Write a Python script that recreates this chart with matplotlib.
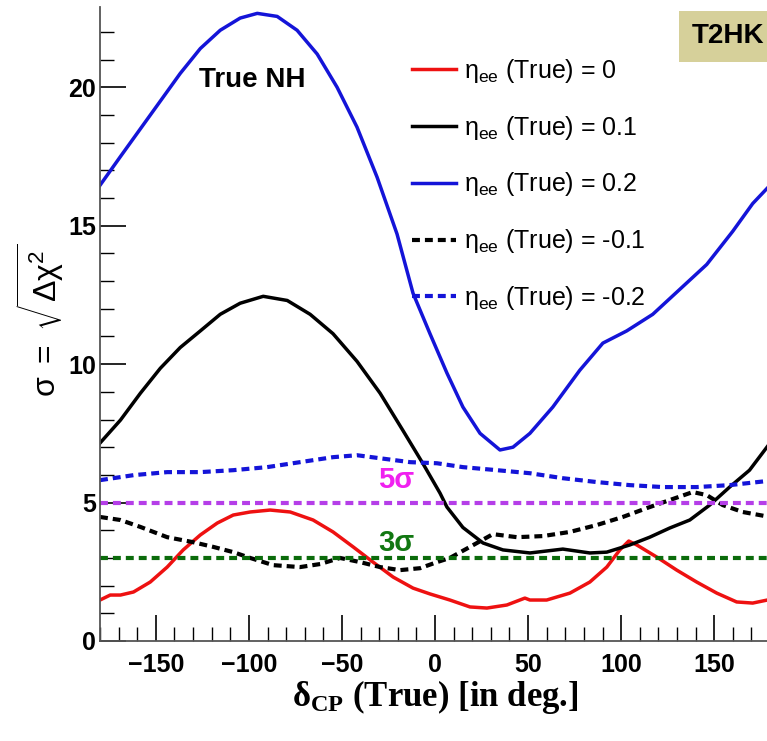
import numpy as np
import matplotlib
matplotlib.use('Agg')
import matplotlib.pyplot as plt
from matplotlib.ticker import MultipleLocator

plt.rcParams['font.family'] = ['Liberation Sans', 'DejaVu Sans']
plt.rcParams['mathtext.fontset'] = 'custom'
plt.rcParams['mathtext.rm'] = 'Liberation Sans'
plt.rcParams['mathtext.it'] = 'Liberation Sans'
plt.rcParams['mathtext.bf'] = 'Liberation Serif:bold'
plt.rcParams['mathtext.default'] = 'regular'

# eta_ee (True) = 0
x_red = [-180, -174.5, -169, -162, -153, -143.9, -135.3, -126.1, -117, -108.4, -99.3, -88.6, -77.8, -65.5,
         -54.8, -44, -33.3, -22.5, -11.8, -2.7, 8, 18.8, 27.9, 38.6, 48.3, 51, 60, 72.5, 83.2, 92.3, 99.3,
         104.1, 108.4, 119.2, 129.9, 140.6, 151.4, 162.1, 170.7, 180]
y_red = [1.48, 1.66, 1.66, 1.77, 2.13, 2.67, 3.29, 3.83, 4.26, 4.55, 4.66, 4.73, 4.66, 4.37,
         3.94, 3.4, 2.85, 2.31, 1.91, 1.7, 1.48, 1.23, 1.19, 1.3, 1.55, 1.48, 1.48, 1.73, 2.13, 2.67, 3.29,
         3.61, 3.47, 3.03, 2.56, 2.13, 1.73, 1.41, 1.37, 1.5]
# eta_ee (True) = 0.1
x_blk = [-180, -169, -158.3, -147.6, -136.9, -126.1, -115.4, -104.7, -92.3, -79.4, -67.1, -54.8, -41.9,
         -29.5, -17.2, -6.4, 2.7, 6.4, 15, 25.8, 36.5, 51, 68.7, 83.2, 92.3, 104.7, 115.4, 126.1, 136.9,
         147.6, 158.3, 169, 180]
y_blk = [7.15, 7.98, 8.95, 9.85, 10.6, 11.2, 11.8, 12.2, 12.45, 12.3, 11.8, 11.1, 10.1,
         8.95, 7.6, 6.4, 5.34, 4.84, 4.1, 3.54, 3.29, 3.18, 3.32, 3.18, 3.21, 3.47, 3.75, 4.08, 4.37,
         4.91, 5.56, 6.17, 7.15]
# eta_ee (True) = 0.2
x_blu = [-180, -169, -158.3, -147.6, -136.9, -126.1, -115.4, -104.7, -95.5, -84.8, -74.1, -63.3, -52.6,
         -41.9, -31.1, -20.4, -11.8, -2.7, 6.4, 15, 24.2, 34.9, 41.9, 51, 63.3, 77.8, 90.2, 103, 117,
         131.5, 146, 160, 170.7, 180]
y_blu = [16.46, 17.5, 18.5, 19.5, 20.5, 21.4, 22.06, 22.5, 22.67, 22.56, 22.06, 21.2, 20.0,
         18.56, 16.75, 14.7, 12.56, 11.1, 9.68, 8.45, 7.5, 6.9, 7.0, 7.5, 8.45, 9.78, 10.76, 11.2, 11.8,
         12.7, 13.6, 14.8, 15.8, 16.46]
# eta_ee (True) = -0.1
x_bkd = [-180, -169, -158.3, -143.9, -130, -119.2, -108.4, -99.3, -87, -72.5, -61.7, -51, -40.3, -29.5,
         -18.8, -8, 1.1, 8, 18.8, 31.1, 44, 58, 72.5, 87, 100.9, 113.8, 126.1, 138.5, 146, 154.6, 165.3,
         180]
y_bkd = [4.48, 4.37, 4.12, 3.75, 3.57, 3.4, 3.21, 3.0, 2.74, 2.67, 2.78, 3.0, 2.85, 2.67,
         2.56, 2.63, 2.85, 3.0, 3.4, 3.86, 3.75, 3.79, 3.94, 4.19, 4.48, 4.8, 5.09, 5.38, 5.27, 4.91, 4.66,
         4.48]
# eta_ee (True) = -0.2
x_bld = [-180, -162, -143.9, -126.1, -108.4, -90.2, -72.5, -54.8, -41.9, -29.5, -13.4, 1.1, 15, 33.3, 51,
         68.7, 87, 104.7, 122.4, 140.6, 158.3, 180]
y_bld = [5.81, 5.99, 6.1, 6.1, 6.17, 6.28, 6.46, 6.64, 6.71, 6.6, 6.46, 6.42, 6.28, 6.17, 6.06,
         5.88, 5.74, 5.63, 5.56, 5.56, 5.63, 5.79]

labels = [r'$\eta_{ee}$ (True) = 0', r'$\eta_{ee}$ (True) = 0.1', r'$\eta_{ee}$ (True) = 0.2',
          r'$\eta_{ee}$ (True) = -0.1', r'$\eta_{ee}$ (True) = -0.2']

fig = plt.figure(figsize=(7.67, 7.41), dpi=100)
ax = fig.add_axes([100 / 767, 100 / 741, 670 / 767, 634 / 741])

lw = 2.5
dash = (0, (1.9, 1.2))
ax.plot(x_red, y_red, color='#ee1111', lw=lw, label=labels[0])
ax.plot(x_blk, y_blk, color='black', lw=lw, label=labels[1])
ax.plot(x_blu, y_blu, color='#1414d8', lw=lw, label=labels[2])
ax.plot(x_bkd, y_bkd, color='black', lw=3, ls=dash, label=labels[3])
ax.plot(x_bld, y_bld, color='#1414d8', lw=3, ls=dash, label=labels[4])

ax.axhline(5, color='#b53ee8', lw=3, ls=dash)
ax.axhline(3, color='#0b6b0b', lw=3, ls=dash)
ax.text(-21, 5.3, '5\u03c3', color='#f020f0', fontsize=21, fontweight='bold', ha='center', va='bottom')
ax.text(-21, 3.05, '3\u03c3', color='#117711', fontsize=21, fontweight='bold', ha='center', va='bottom')

ax.set_xlim(-180, 180)
ax.set_ylim(0, 22.9)
ax.xaxis.set_major_locator(MultipleLocator(50))
ax.xaxis.set_minor_locator(MultipleLocator(10))
ax.yaxis.set_major_locator(MultipleLocator(5))
ax.yaxis.set_minor_locator(MultipleLocator(1))
ax.tick_params(which='major', direction='in', length=19, width=1.2, labelsize=18, pad=9)
ax.tick_params(which='minor', direction='in', length=10, width=1.0)
ax.tick_params(axis='y', pad=3)
ax.set_xticks([-150, -100, -50, 0, 50, 100, 150])
ax.set_xticklabels(['\u2212150', '\u2212100', '\u221250', '0', '50', '100', '150'])
for lab in ax.get_xticklabels() + ax.get_yticklabels():
    lab.set_fontweight('bold')
for side in ['top', 'right']:
    ax.spines[side].set_visible(False)
for side in ['left', 'bottom']:
    ax.spines[side].set_color('#555555')
    ax.spines[side].set_linewidth(1.3)

ax.set_xlabel(r'$\mathbf{\delta_{CP}}$ (True) [in deg.]', family='Liberation Serif', fontsize=25,
              fontweight='bold', labelpad=0)
fig.text(40 / 767, 1 - 320 / 741, r'$\sigma\ =\ \sqrt{\Delta\chi^2}$', rotation=90, fontsize=23,
         ha='center', va='center')

ax.text((252 - 100) / 670, (641 - 80) / 634, 'True NH', transform=ax.transAxes, fontsize=20,
        fontweight='bold', ha='center', va='center')
fig.text(728 / 767, 1 - 36 / 741, 'T2HK', fontsize=20, fontweight='bold', ha='center', va='center',
         bbox=dict(boxstyle='square,pad=0.45', fc='#d6d09a', ec='none'))

ax.legend(loc='upper left', bbox_to_anchor=(312 / 670, 1 - 50 / 634), frameon=False, fontsize=18,
          handlelength=1.75, handletextpad=0.35, labelspacing=1.15, borderpad=0, borderaxespad=0)

fig.savefig('out.png', dpi=100)
